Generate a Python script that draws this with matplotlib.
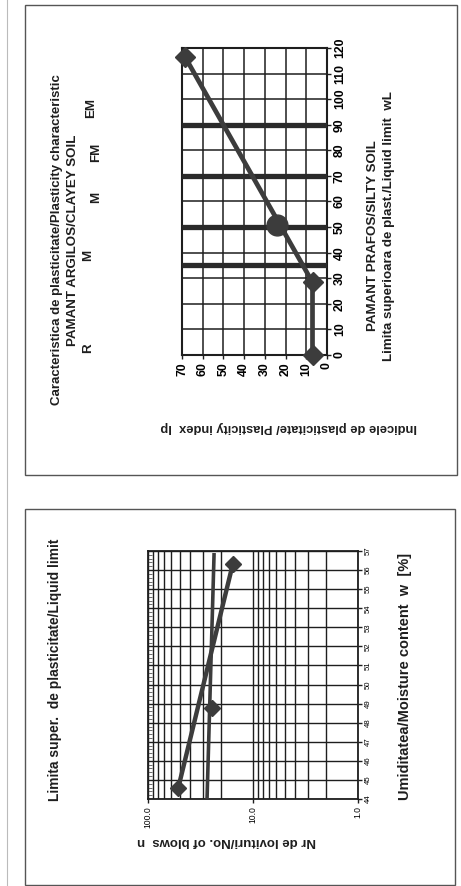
import matplotlib
matplotlib.use("Agg")
import matplotlib.pyplot as plt
from matplotlib.patches import Rectangle
from matplotlib.lines import Line2D
from matplotlib.ticker import FixedLocator, NullFormatter

plt.rcParams["font.family"] = ["Liberation Sans", "DejaVu Sans"]

W, H = 461, 886

# ── plasticity chart data ──────────────────────────────────────────────
ip_ticks = [0, 10, 20, 30, 40, 50, 60, 70]
wl_ticks = [0, 10, 20, 30, 40, 50, 60, 70, 80, 90, 100, 110, 120]
wl_bounds = [35, 50, 70, 90]          # R / M / M / FM / EM limits
line_wl = [0, 28.4, 116.6]
line_ip = [7, 7, 68.6]
sample_wl = [51]
sample_ip = [24]

# ── liquid limit chart data ────────────────────────────────────────────
w_ticks = list(range(44, 58))
n_ticks = [1, 10, 100]
n_labels = ["1.0", "10.0", "100.0"]
pts_w = [44.6, 48.75, 56.3]
pts_n = [51.4, 24.7, 15.6]
trend_w = [44.6, 56.3]
trend_n = [51.4, 15.6]
n25_w = [44.0, 56.8]
n25_n = [27.4, 23.5]

INK = "#1e1e1e"
DATA = "#3c3c3c"


def fx(px):
    return px / W


def fy(py):
    return 1 - py / H


def axes_px(fig, left, top, right, bottom):
    return fig.add_axes([fx(left), fy(bottom), fx(right) - fx(left), (bottom - top) / H])


fig = plt.figure(figsize=(W / 100, H / 100), dpi=100)
fig.patch.set_facecolor("white")

# frames around both charts + scan edge
for (l, t, r, b) in [(25, 5, 457, 475), (25, 509, 455, 885)]:
    fig.add_artist(Rectangle((fx(l), fy(b)), fx(r) - fx(l), (b - t) / H,
                             fill=False, lw=1.0, ec="#555555", transform=fig.transFigure))
fig.add_artist(Line2D([fx(7), fx(7)], [fy(0), fy(886)], color="#bbbbbb", lw=0.8,
                      transform=fig.transFigure))

# ── top: plasticity chart (drawn rotated) ──────────────────────────────
ax = axes_px(fig, 182, 48, 327, 355)
ax.set_xlim(70, 0)
ax.set_ylim(0, 120)
ax.set_xticks(ip_ticks)
ax.set_yticks(wl_ticks)
ax.yaxis.tick_right()
ax.grid(True, color=INK, lw=1.1)
ax.set_axisbelow(True)
for wl in wl_bounds:
    ax.plot([0, 70], [wl, wl], color="#2a2a2a", lw=3.8, solid_capstyle="butt", zorder=3)
ax.plot(line_ip, line_wl, color=DATA, lw=3.4, marker="D", ms=10, mfc=DATA, mec=DATA, zorder=4,
        clip_on=False)
ax.plot(sample_ip, sample_wl, "o", color=DATA, ms=15, zorder=5)
for s in ax.spines.values():
    s.set_linewidth(1.5)
    s.set_color(INK)
ax.tick_params(axis="both", length=3, width=1, color=INK, pad=2)
for lab in ax.get_xticklabels():
    lab.set_rotation(90)
    lab.set_fontsize(8.8)
    lab.set_fontweight("bold")
    lab.set_va("top")
    lab.set_ha("center")
for lab in ax.get_yticklabels():
    lab.set_rotation(90)
    lab.set_fontsize(8.8)
    lab.set_fontweight("bold")
    lab.set_va("center")
    lab.set_ha("left")

txt = dict(transform=fig.transFigure, rotation=90, ha="center", va="center",
           fontweight="bold", color=INK)
fig.text(fx(57), fy(240), "Caracteristica de plasticitate/Plasticity characteristic", fontsize=9.5, **txt)
fig.text(fx(73), fy(240), "PAMANT ARGILOS/CLAYEY SOIL", fontsize=9.6, **txt)
for s, x, y in [("R", 88, 348), ("M", 88, 255), ("M", 96, 197), ("FM", 96, 152), ("EM", 91, 108)]:
    fig.text(fx(x), fy(y), s, fontsize=9.6, **txt)
fig.text(fx(373), fy(236), "PAMANT PRAFOS/SILTY SOIL", fontsize=9.6, **txt)
fig.text(fx(389), fy(226), "Limita superioara de plast./Liquid limit  wL", fontsize=9.6, **txt)
fig.text(fx(289), fy(427), "Indicele de plasticitate/ Plasticity index  Ip", fontsize=9.3,
         transform=fig.transFigure, rotation=180, ha="center", va="center",
         fontweight="bold", color=INK)

# ── bottom: liquid limit chart (drawn rotated) ─────────────────────────
ax2 = axes_px(fig, 148, 551, 358, 799)
ax2.set_xscale("log")
ax2.set_xlim(100, 1)
ax2.set_ylim(44, 57)
ax2.xaxis.set_major_locator(FixedLocator(n_ticks))
ax2.set_xticklabels(n_labels)
ax2.xaxis.set_minor_locator(FixedLocator([v * d for d in (1, 10) for v in range(2, 10)]))
ax2.xaxis.set_minor_formatter(NullFormatter())
ax2.set_yticks(w_ticks)
ax2.yaxis.set_minor_locator(FixedLocator([44 + i * 0.2 for i in range(66)]))
ax2.yaxis.tick_right()
ax2.grid(True, which="major", color=INK, lw=1.0)
ax2.grid(True, which="minor", axis="x", color=INK, lw=1.0)
ax2.set_axisbelow(True)
ax2.plot(n25_n, n25_w, color=DATA, lw=2.6, zorder=3)
ax2.plot(trend_n, trend_w, color=DATA, lw=3.2, zorder=3)
ax2.plot(pts_n, pts_w, "D", color=DATA, ms=8, zorder=4, clip_on=False)
for s in ax2.spines.values():
    s.set_linewidth(1.3)
    s.set_color(INK)
ax2.tick_params(axis="both", which="major", length=3, width=1, color=INK, pad=2)
ax2.tick_params(axis="y", which="minor", left=True, right=False, direction="in", length=3,
                width=0.6, color="#555555")
ax2.tick_params(axis="x", which="minor", length=0)
for lab in ax2.get_xticklabels():
    lab.set_rotation(90)
    lab.set_fontsize(6.2)
    lab.set_va("top")
    lab.set_ha("center")
for lab in ax2.get_yticklabels():
    lab.set_rotation(90)
    lab.set_fontsize(5.6)
    lab.set_va("center")
    lab.set_ha("left")

fig.text(fx(55), fy(670), "Limita super.  de plasticitate/Liquid limit", fontsize=9.9, **txt)
fig.text(fx(405), fy(676), "Umiditatea/Moisture content  w  [%]", fontsize=10.5, **txt)
fig.text(fx(227), fy(841), "Nr de lovituri/No. of blows  n", fontsize=9.5,
         transform=fig.transFigure, rotation=180, ha="center", va="center",
         fontweight="bold", color=INK)

fig.savefig("out.png", dpi=100, facecolor="white")
